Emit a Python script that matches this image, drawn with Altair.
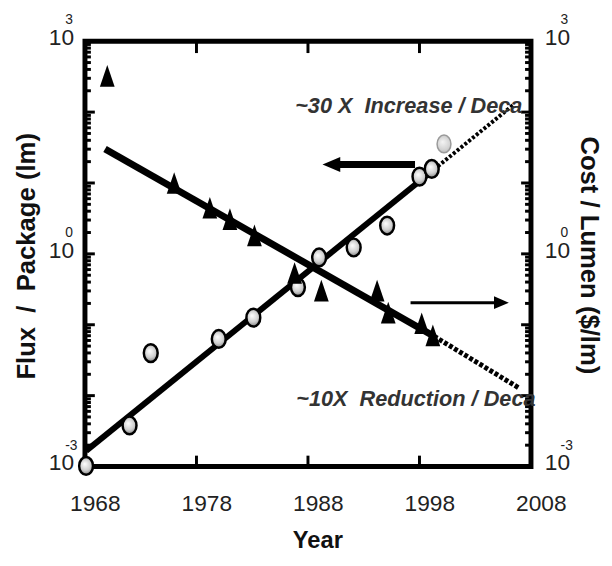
import altair as alt
import pandas as pd

NB = "\u00a0"

# ---------------- data ----------------
# Cost / lumen (triangles, right axis)
tri_years = [1970.0, 1976.0, 1979.2, 1981.0, 1983.2, 1986.8, 1989.2, 1994.2, 1995.2, 1998.2, 1999.2]
tri_cost = [324, 10.0, 4.47, 3.09, 1.82, 0.537, 0.302, 0.302, 0.148, 0.105, 0.071]

# Flux / package (circles, left axis)
circ_years = [1968.1, 1972.0, 1973.9, 1980.0, 1983.1, 1987.1, 1989.0, 1992.1, 1995.1, 1998.0, 1999.1]
circ_flux = [0.00102, 0.0038, 0.0398, 0.063, 0.126, 0.339, 0.891, 1.23, 2.51, 12.3, 15.8]

# projected (grey) flux point
proj_years = [2000.2]
proj_flux = [35.5]

# trend lines (solid fit + dotted extrapolation)
flux_fit_years = [1968.1, 1999.3]
flux_fit_vals = [0.00166, 15.5]
flux_proj_years = [1999.3, 2006.4]
flux_proj_vals = [15.5, 126]

cost_fit_years = [1969.8, 1999.3]
cost_fit_vals = [30.2, 0.069]
cost_proj_years = [1999.3, 2007.0]
cost_proj_vals = [0.069, 0.0126]

# axes
x_ticks = [1968, 1978, 1988, 1998, 2008]
x_inner_ticks = [1978, 1988, 1998]
y_label_vals = [0.001, 1, 1000]
y_label_base = ["10", "10", "10"]
y_label_exps = ["-3", "0", "3"]
y_major = [0.001, 0.01, 0.1, 1, 10, 100, 1000]
y_minor = [m * d for d in [0.001, 0.01, 0.1, 1, 10, 100] for m in [2, 3, 4, 5, 6, 7, 8, 9]]

# annotations
note_text = ["~30 X " + NB + "Increase / Deca", "~10X " + NB + "Reduction / Deca"]
note_years = [1986.85, 1986.95]
note_vals = [120, 0.0088]

arrow_left_years = [1997.6, 1990.6]
arrow_left_val = 18.2
arrow_left_head_year = 1990.1
arrow_right_years = [1997.2, 2005.0]
arrow_right_val = 0.205
arrow_right_head_year = 2005.35

title_left = "Flux " + NB + "/ " + NB + "Package (lm)"
title_right = "Cost / Lumen ($/lm)"
title_x = "Year"

# ---------------- chart ----------------
W, H = 452, 431
FONT = "Liberation Sans"

xs = alt.Scale(domain=[1968, 2008], nice=False, zero=False)
ys = alt.Scale(type="log", domain=[0.001, 1000], nice=False)
xaxis = alt.Axis(values=x_ticks, format="d", ticks=False, tickSize=0, domain=False,
                 grid=False, labelFontSize=23, labelPadding=27, labelOffset=10,
                 labelFlush=False, labelOverlap=False, labelColor="#222",
                 labelFont=FONT, title=None)
X = alt.X("year:Q", scale=xs, axis=xaxis)
Y = alt.Y("val:Q", scale=ys, axis=None)

tri_df = pd.DataFrame({"year": tri_years, "val": tri_cost})
circ_df = pd.DataFrame({"year": circ_years, "val": circ_flux})
proj_df = pd.DataFrame({"year": proj_years, "val": proj_flux})


def seg(years, vals):
    return pd.DataFrame({"year": years, "val": vals})


TRI = "M0,-1L0.68,1L-0.68,1Z"
ELL = "M0,-1A0.78,1,0,1,1,0,1A0.78,1,0,1,1,0,-1Z"
HEAD_L = "M-1,0L1,-0.85L1,0.85Z"
HEAD_R = "M1,0L-1,-0.85L-1,0.85Z"

ball = alt.RadialGradient(
    gradient="radial", x1=0.42, y1=0.38, r1=0.0, x2=0.5, y2=0.5, r2=0.62,
    stops=[alt.GradientStop(color="#ffffff", offset=0),
           alt.GradientStop(color="#cfcfcf", offset=0.5),
           alt.GradientStop(color="#5a5a5a", offset=1)])
ball_grey = alt.RadialGradient(
    gradient="radial", x1=0.42, y1=0.38, r1=0.0, x2=0.5, y2=0.5, r2=0.62,
    stops=[alt.GradientStop(color="#f4f4f4", offset=0),
           alt.GradientStop(color="#d2d2d2", offset=0.6),
           alt.GradientStop(color="#a8a8a8", offset=1)])

layers = []

# axis ticks (inward)
ymaj_df = pd.DataFrame({"val": y_major})
ymin_df = pd.DataFrame({"val": y_minor})
for df, ln in [(ymaj_df, 10), (ymin_df, 6)]:
    layers.append(alt.Chart(df).mark_rule(color="black", strokeWidth=3).encode(
        y=Y, x=alt.value(0), x2=alt.value(ln)))
    layers.append(alt.Chart(df).mark_rule(color="black", strokeWidth=3).encode(
        y=Y, x=alt.value(W), x2=alt.value(W - ln)))
xt_df = pd.DataFrame({"year": x_inner_ticks})
layers.append(alt.Chart(xt_df).mark_rule(color="black", strokeWidth=3).encode(
    x=X, y=alt.value(0), y2=alt.value(12)))
layers.append(alt.Chart(xt_df).mark_rule(color="black", strokeWidth=3).encode(
    x=X, y=alt.value(H), y2=alt.value(H - 11)))

# x axis labels (via axis) - anchor layer
layers.append(alt.Chart(pd.DataFrame({"year": x_ticks, "val": [1] * 5})).mark_point(opacity=0).encode(x=X, y=Y))

# trend lines
layers.append(alt.Chart(seg(cost_fit_years, cost_fit_vals)).mark_line(
    color="black", strokeWidth=7).encode(x=X, y=Y))
layers.append(alt.Chart(seg(cost_proj_years, cost_proj_vals)).mark_line(
    color="black", strokeWidth=5, strokeDash=[4, 2]).encode(x=X, y=Y))
layers.append(alt.Chart(seg(flux_fit_years, flux_fit_vals)).mark_line(
    color="black", strokeWidth=6).encode(x=X, y=Y))
layers.append(alt.Chart(seg(flux_proj_years, flux_proj_vals)).mark_line(
    color="black", strokeWidth=4, strokeDash=[3, 2]).encode(x=X, y=Y))

# markers
layers.append(alt.Chart(circ_df).mark_point(shape=ELL, size=324, filled=True, fill=ball,
                                            stroke="black", strokeWidth=2.5, opacity=1).encode(x=X, y=Y))
layers.append(alt.Chart(proj_df).mark_point(shape=ELL, size=324, filled=True, fill=ball_grey,
                                            stroke="#9a9a9a", strokeWidth=1.5, opacity=1).encode(x=X, y=Y))
layers.append(alt.Chart(tri_df).mark_point(shape=TRI, size=484, filled=True, color="black",
                                           opacity=1).encode(x=X, y=Y))

# arrows
al_df = pd.DataFrame({"year": [arrow_left_years[0]], "year2": [arrow_left_years[1]], "val": [arrow_left_val]})
layers.append(alt.Chart(al_df).mark_rule(color="black", strokeWidth=7).encode(
    x=X, x2="year2:Q", y=Y))
layers.append(alt.Chart(pd.DataFrame({"year": [arrow_left_head_year], "val": [arrow_left_val]})).mark_point(
    shape=HEAD_L, size=324, filled=True, color="black", opacity=1).encode(x=X, y=Y))
ar_df = pd.DataFrame({"year": [arrow_right_years[0]], "year2": [arrow_right_years[1]], "val": [arrow_right_val]})
layers.append(alt.Chart(ar_df).mark_rule(color="black", strokeWidth=3).encode(
    x=X, x2="year2:Q", y=Y))
layers.append(alt.Chart(pd.DataFrame({"year": [arrow_right_head_year], "val": [arrow_right_val]})).mark_point(
    shape=HEAD_R, size=225, filled=True, color="black", opacity=1).encode(x=X, y=Y))

# annotation texts
note_df = pd.DataFrame({"year": note_years, "val": note_vals, "t": note_text})
layers.append(alt.Chart(note_df).mark_text(align="left", baseline="middle", fontSize=22,
                                           fontStyle="italic", fontWeight="bold", color="#333",
                                           font=FONT).encode(x=X, y=Y, text="t:N"))

# y labels with superscripts
yl_df = pd.DataFrame({"val": y_label_vals, "base": y_label_base, "exp": y_label_exps})
layers.append(alt.Chart(yl_df).mark_text(align="right", baseline="middle", dy=-3, fontSize=23,
                                         color="#222", font=FONT).encode(
    x=alt.value(-11), y=Y, text="base:N"))
layers.append(alt.Chart(yl_df).mark_text(align="left", baseline="middle", dy=-21, fontSize=14,
                                         color="#222", font=FONT).encode(
    x=alt.value(-20), y=Y, text="exp:N"))
layers.append(alt.Chart(yl_df).mark_text(align="left", baseline="middle", dy=-3, fontSize=23,
                                         color="#222", font=FONT).encode(
    x=alt.value(W + 14), y=Y, text="base:N"))
layers.append(alt.Chart(yl_df).mark_text(align="left", baseline="middle", dy=-21, fontSize=14,
                                         color="#222", font=FONT).encode(
    x=alt.value(W + 30), y=Y, text="exp:N"))

# titles
layers.append(alt.Chart(pd.DataFrame({"t": [title_left]})).mark_text(
    angle=270, align="center", baseline="middle", fontSize=26, fontWeight="bold",
    color="#111", font=FONT).encode(x=alt.value(-59), y=alt.value(218), text="t:N"))
layers.append(alt.Chart(pd.DataFrame({"t": [title_right]})).mark_text(
    angle=90, align="center", baseline="middle", fontSize=26, fontWeight="bold",
    color="#111", font=FONT).encode(x=alt.value(511), y=alt.value(217), text="t:N"))
layers.append(alt.Chart(pd.DataFrame({"t": [title_x]})).mark_text(
    align="center", baseline="middle", fontSize=24, fontWeight="bold",
    color="#111", font=FONT).encode(x=alt.value(236), y=alt.value(507), text="t:N"))

chart = alt.layer(*layers).properties(
    width=W, height=H,
    autosize=alt.AutoSizeParams(type="none"),
    padding={"left": 78, "top": 30, "right": 74, "bottom": 85},
    background="white",
).configure_view(stroke="black", strokeWidth=5)

chart.save("out.html", embed_options={"renderer": "svg", "actions": False})
